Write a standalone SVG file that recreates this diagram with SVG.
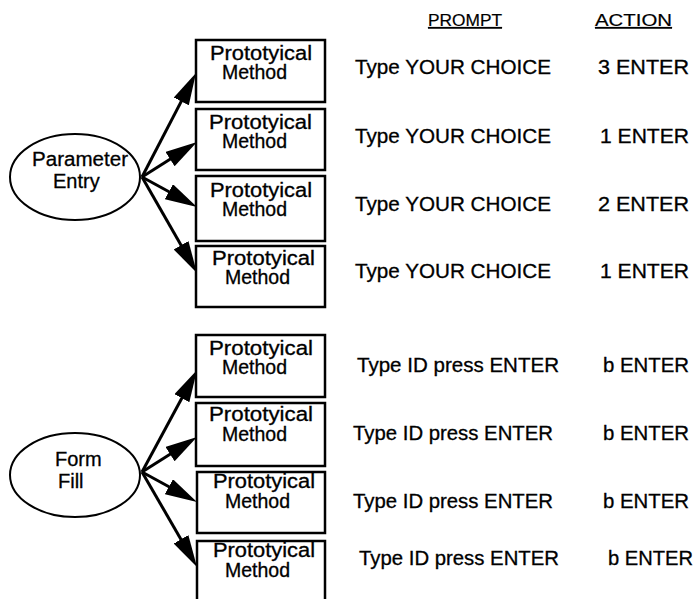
<svg xmlns="http://www.w3.org/2000/svg" width="699" height="599" viewBox="0 0 699 599">
<style>
.box{fill:#fff;stroke:#000;stroke-width:2.5}
.ell{fill:#fff;stroke:#000;stroke-width:2}
.t{font-family:"Liberation Sans",Arial,Helvetica,sans-serif;font-size:20px;fill:#000;stroke:#000;stroke-width:0.3}
.m{font-family:"Liberation Sans",Arial,Helvetica,sans-serif;font-size:19.5px;fill:#000;stroke:#000;stroke-width:0.3}
.h{font-family:"Liberation Sans",Arial,Helvetica,sans-serif;font-size:17px;fill:#000;stroke:#000;stroke-width:0.2;text-decoration:underline}
.c{stroke:#000;stroke-width:3;fill:none;marker-end:url(#ah)}
</style>
<defs>
<marker id="ah" markerUnits="userSpaceOnUse" markerWidth="34" markerHeight="18" refX="22" refY="8.5" orient="auto">
<path d="M0,0 L32,8.5 L0,17 z" fill="#000"/>
</marker>
</defs>
<rect width="699" height="599" fill="#fff"/>
<g id="headers">
<text class="h" x="428" y="26" textLength="74" lengthAdjust="spacingAndGlyphs">PROMPT</text>
<text class="h" x="595" y="26" textLength="77" lengthAdjust="spacingAndGlyphs">ACTION</text>
</g>
<g id="connectors">
<line class="c" x1="142" y1="177" x2="191.4" y2="81.9"/>
<line class="c" x1="142" y1="177" x2="188.6" y2="147.4"/>
<line class="c" x1="142" y1="177" x2="188.2" y2="202.2"/>
<line class="c" x1="142" y1="177" x2="192.0" y2="264.3"/>
<line class="c" x1="142" y1="472" x2="192.3" y2="378.8"/>
<line class="c" x1="142" y1="472" x2="188.6" y2="442.4"/>
<line class="c" x1="142" y1="472" x2="188.2" y2="497.2"/>
<line class="c" x1="142" y1="472" x2="192.0" y2="558.4"/>
</g>
<g id="parameter-entry">
<ellipse class="ell" cx="75" cy="177" rx="65" ry="43"/>
<text class="t" x="32" y="166" textLength="96" lengthAdjust="spacingAndGlyphs">Parameter</text>
<text class="t" x="53" y="188">Entry</text>
</g>
<g id="form-fill">
<ellipse class="ell" cx="75" cy="475" rx="65" ry="42"/>
<text class="t" x="55" y="466">Form</text>
<text class="t" x="58" y="488">Fill</text>
</g>
<g id="method1">
<rect class="box" x="196" y="40" width="129" height="62"/>
<text class="m" x="210" y="59.5" textLength="102" lengthAdjust="spacingAndGlyphs">Prototyical</text>
<text class="m" x="222" y="79">Method</text>
</g>
<g id="method2">
<rect class="box" x="196" y="109" width="129" height="61"/>
<text class="m" x="209" y="128.5" textLength="103" lengthAdjust="spacingAndGlyphs">Prototyical</text>
<text class="m" x="222" y="148">Method</text>
</g>
<g id="method3">
<rect class="box" x="196" y="176" width="129" height="65"/>
<text class="m" x="210" y="196.5" textLength="102" lengthAdjust="spacingAndGlyphs">Prototyical</text>
<text class="m" x="222" y="216">Method</text>
</g>
<g id="method4">
<rect class="box" x="196" y="246" width="129" height="61"/>
<text class="m" x="212" y="264.5" textLength="103" lengthAdjust="spacingAndGlyphs">Prototyical</text>
<text class="m" x="225" y="284">Method</text>
</g>
<g id="method5">
<rect class="box" x="196" y="335" width="129" height="62"/>
<text class="m" x="209" y="354.5" textLength="104" lengthAdjust="spacingAndGlyphs">Prototyical</text>
<text class="m" x="222" y="374">Method</text>
</g>
<g id="method6">
<rect class="box" x="196" y="403" width="129" height="63"/>
<text class="m" x="209" y="421" textLength="104" lengthAdjust="spacingAndGlyphs">Prototyical</text>
<text class="m" x="222" y="440.5">Method</text>
</g>
<g id="method7">
<rect class="box" x="197" y="472" width="128" height="61"/>
<text class="m" x="213" y="488" textLength="102" lengthAdjust="spacingAndGlyphs">Prototyical</text>
<text class="m" x="225" y="507.5">Method</text>
</g>
<g id="method8">
<rect class="box" x="197" y="541" width="128" height="70"/>
<text class="m" x="213" y="557" textLength="102" lengthAdjust="spacingAndGlyphs">Prototyical</text>
<text class="m" x="225" y="576.5">Method</text>
</g>
<g id="rows">
<text class="t" x="355" y="74" textLength="196" lengthAdjust="spacingAndGlyphs">Type YOUR CHOICE</text>
<text class="t" x="598" y="74" textLength="91" lengthAdjust="spacingAndGlyphs">3 ENTER</text>
<text class="t" x="355" y="143" textLength="196" lengthAdjust="spacingAndGlyphs">Type YOUR CHOICE</text>
<text class="t" x="600" y="143" textLength="89" lengthAdjust="spacingAndGlyphs">1 ENTER</text>
<text class="t" x="355" y="211" textLength="196" lengthAdjust="spacingAndGlyphs">Type YOUR CHOICE</text>
<text class="t" x="598" y="211" textLength="91" lengthAdjust="spacingAndGlyphs">2 ENTER</text>
<text class="t" x="355" y="278" textLength="196" lengthAdjust="spacingAndGlyphs">Type YOUR CHOICE</text>
<text class="t" x="600" y="278" textLength="89" lengthAdjust="spacingAndGlyphs">1 ENTER</text>
<text class="t" x="357" y="372" textLength="202" lengthAdjust="spacingAndGlyphs">Type ID press ENTER</text>
<text class="t" x="603" y="372" textLength="86" lengthAdjust="spacingAndGlyphs">b ENTER</text>
<text class="t" x="353" y="440" textLength="200" lengthAdjust="spacingAndGlyphs">Type ID press ENTER</text>
<text class="t" x="603" y="440" textLength="86" lengthAdjust="spacingAndGlyphs">b ENTER</text>
<text class="t" x="353" y="508" textLength="200" lengthAdjust="spacingAndGlyphs">Type ID press ENTER</text>
<text class="t" x="603" y="508" textLength="86" lengthAdjust="spacingAndGlyphs">b ENTER</text>
<text class="t" x="359" y="565" textLength="200" lengthAdjust="spacingAndGlyphs">Type ID press ENTER</text>
<text class="t" x="608" y="565" textLength="85" lengthAdjust="spacingAndGlyphs">b ENTER</text>
</g>
</svg>
